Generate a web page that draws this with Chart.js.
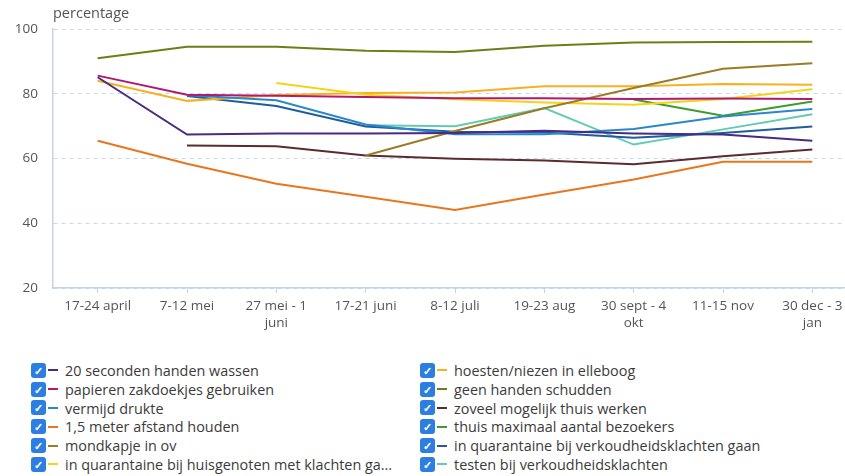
<!DOCTYPE html>
<html>
<head>
<meta charset="utf-8">
<script src="https://cdn.jsdelivr.net/npm/chart.js@4.4.1/dist/chart.umd.min.js"></script>
<style>
    html, body { margin: 0; padding: 0; background: #fff; overflow: hidden; }
    body { width: 845px; height: 476px; position: relative; font-family: "Open Sans", sans-serif; }
    #wrap { position: absolute; left: 0; top: 0; width: 860px; height: 345px; }
    #legend {
        position: absolute; left: 31px; top: 361px; width: 800px;
        display: grid; grid-template-columns: 389px 400px; grid-template-rows: repeat(6, 18.8px);
        grid-auto-flow: column; font-size: 14.4px; color: #3b3b3b;
    }
    .item { display: flex; align-items: center; white-space: nowrap; }
    .box {
        width: 15px; height: 15px; border-radius: 3px; background: #2c7fe0; color: #fff;
        font-size: 11px; line-height: 15px; text-align: center; font-weight: bold;
    }
    .dash { width: 10px; height: 2px; margin: 0 7px 0 2px; }
</style>
</head>
<body>
<div id="wrap"><canvas id="chart"></canvas></div>
<div id="legend"></div>
<script>
const categories = [
    '17-24 april', '7-12 mei', ['27 mei - 1', 'juni'], '17-21 juni', '8-12 juli',
    '19-23 aug', ['30 sept - 4', 'okt'], '11-15 nov', ['30 dec - 3', 'jan']
];

// percentages per maatregel, null = nog niet gevraagd
const handenWassen   = [85.1, 67.4, 67.7, 67.7, 67.9, 68.6, 67.7, 67.4, 65.5];
const zakdoekjes     = [85.6, 79.7, 79.4, 79.0, 78.6, 78.6, 78.4, 78.5, 78.4];
const vermijdDrukte  = [null, 79.5, 78.0, 70.5, 67.5, 67.5, 69.1, 73.0, 75.3];
const afstand        = [65.5, 58.4, 52.2, 48.2, 44.1, 48.9, 53.5, 59.0, 59.0];
const mondkapje      = [null, null, null, 60.9, 68.5, 75.5, 81.8, 87.7, 89.4];
const quarHuisgenoot = [null, null, 83.3, 79.7, 78.3, 77.3, 76.6, 78.4, 81.4];
const elleboog       = [84.0, 77.8, 79.6, 80.2, 80.4, 82.3, 82.3, 83.0, 82.8];
const handenSchudden = [91.0, 94.5, 94.5, 93.3, 92.9, 94.8, 95.8, 96.0, 96.1];
const thuisWerken    = [null, 64.0, 63.8, 60.9, 59.9, 59.4, 58.2, 60.7, 62.8];
const bezoekers      = [null, null, null, null, null, null, 78.2, 73.2, 77.6];
const quarVerkouden  = [null, 79.3, 76.2, 69.9, 68.3, 68.0, 66.4, 67.9, 69.9];
const testen         = [null, null, null, 70.3, 70.0, 75.6, 64.3, 69.0, 73.7];

const yTicks = [20, 40, 60, 80, 100];

const series = [
    { label: '20 seconden handen wassen', data: handenWassen, color: '#4a2a82' },
    { label: 'papieren zakdoekjes gebruiken', data: zakdoekjes, color: '#b0196e' },
    { label: 'vermijd drukte', data: vermijdDrukte, color: '#2c86cc' },
    { label: '1,5 meter afstand houden', data: afstand, color: '#e8761e' },
    { label: 'mondkapje in ov', data: mondkapje, color: '#9c7b25' },
    { label: 'in quarantaine bij huisgenoten met klachten gaan', data: quarHuisgenoot, color: '#f2d516', short: 'in quarantaine bij huisgenoten met klachten ga...' },
    { label: 'hoesten/niezen in elleboog', data: elleboog, color: '#f5b122' },
    { label: 'geen handen schudden', data: handenSchudden, color: '#6f7d16' },
    { label: 'zoveel mogelijk thuis werken', data: thuisWerken, color: '#5b2b2f' },
    { label: 'thuis maximaal aantal bezoekers', data: bezoekers, color: '#3f9b2e' },
    { label: 'in quarantaine bij verkoudheidsklachten gaan', data: quarVerkouden, color: '#1f5d9f' },
    { label: 'testen bij verkoudheidsklachten', data: testen, color: '#63cbb2' }
];

const axisColor = '#c3d3ea';
const tickFont = { family: 'Open Sans', size: 13.5 };

// "percentage" boven de y-as
const yTitle = {
    id: 'yTitle',
    afterDraw(chart) {
        const { ctx, chartArea } = chart;
        ctx.save();
        ctx.font = '14.5px "Open Sans"';
        ctx.fillStyle = '#555';
        ctx.textBaseline = 'middle';
        ctx.fillText('percentage', chartArea.left, 14);
        ctx.restore();
    }
};

const chart = new Chart(document.getElementById('chart'), {
    type: 'line',
    data: {
        labels: categories,
        datasets: series.map(s => ({
            label: s.label,
            data: s.data,
            borderColor: s.color,
            backgroundColor: s.color,
            borderWidth: 2,
            pointRadius: 0,
            tension: 0
        }))
    },
    options: {
        responsive: true,
        maintainAspectRatio: false,
        animation: false,
        layout: { padding: { top: 29, left: 0, right: 3, bottom: 0 } },
        plugins: {
            legend: { display: false },
            tooltip: { enabled: false }
        },
        scales: {
            x: {
                offset: true,
                grid: { drawOnChartArea: false, drawTicks: true, tickLength: 5, color: axisColor },
                border: { color: axisColor, width: 1.5 },
                ticks: { font: { ...tickFont, lineHeight: 1.3 }, color: '#555', maxRotation: 0, autoSkip: false, padding: 4 },
                afterFit(scale) { scale.height = 57; }
            },
            y: {
                min: 20,
                max: 100,
                afterBuildTicks(scale) { scale.ticks = yTicks.map(v => ({ value: v })); },
                grid: { drawTicks: false, color: '#c9d6e6', lineWidth: 1 },
                border: { color: axisColor, width: 1.5, dash: [4, 4] },
                ticks: { font: tickFont, color: '#555', padding: 15 },
                afterFit(scale) { scale.width = 53; }
            }
        }
    },
    plugins: [yTitle]
});

// legenda met vinkjes, opgebouwd uit de datasets
const legend = document.getElementById('legend');
chart.data.datasets.forEach((ds, i) => {
    const item = document.createElement('div');
    item.className = 'item';
    const text = series[i].short || ds.label;
    item.innerHTML = '<span class="box">\u2713</span><span class="dash" style="background:' +
        ds.borderColor + '"></span><span>' + text + '</span>';
    legend.appendChild(item);
});
</script>
</body>
</html>
